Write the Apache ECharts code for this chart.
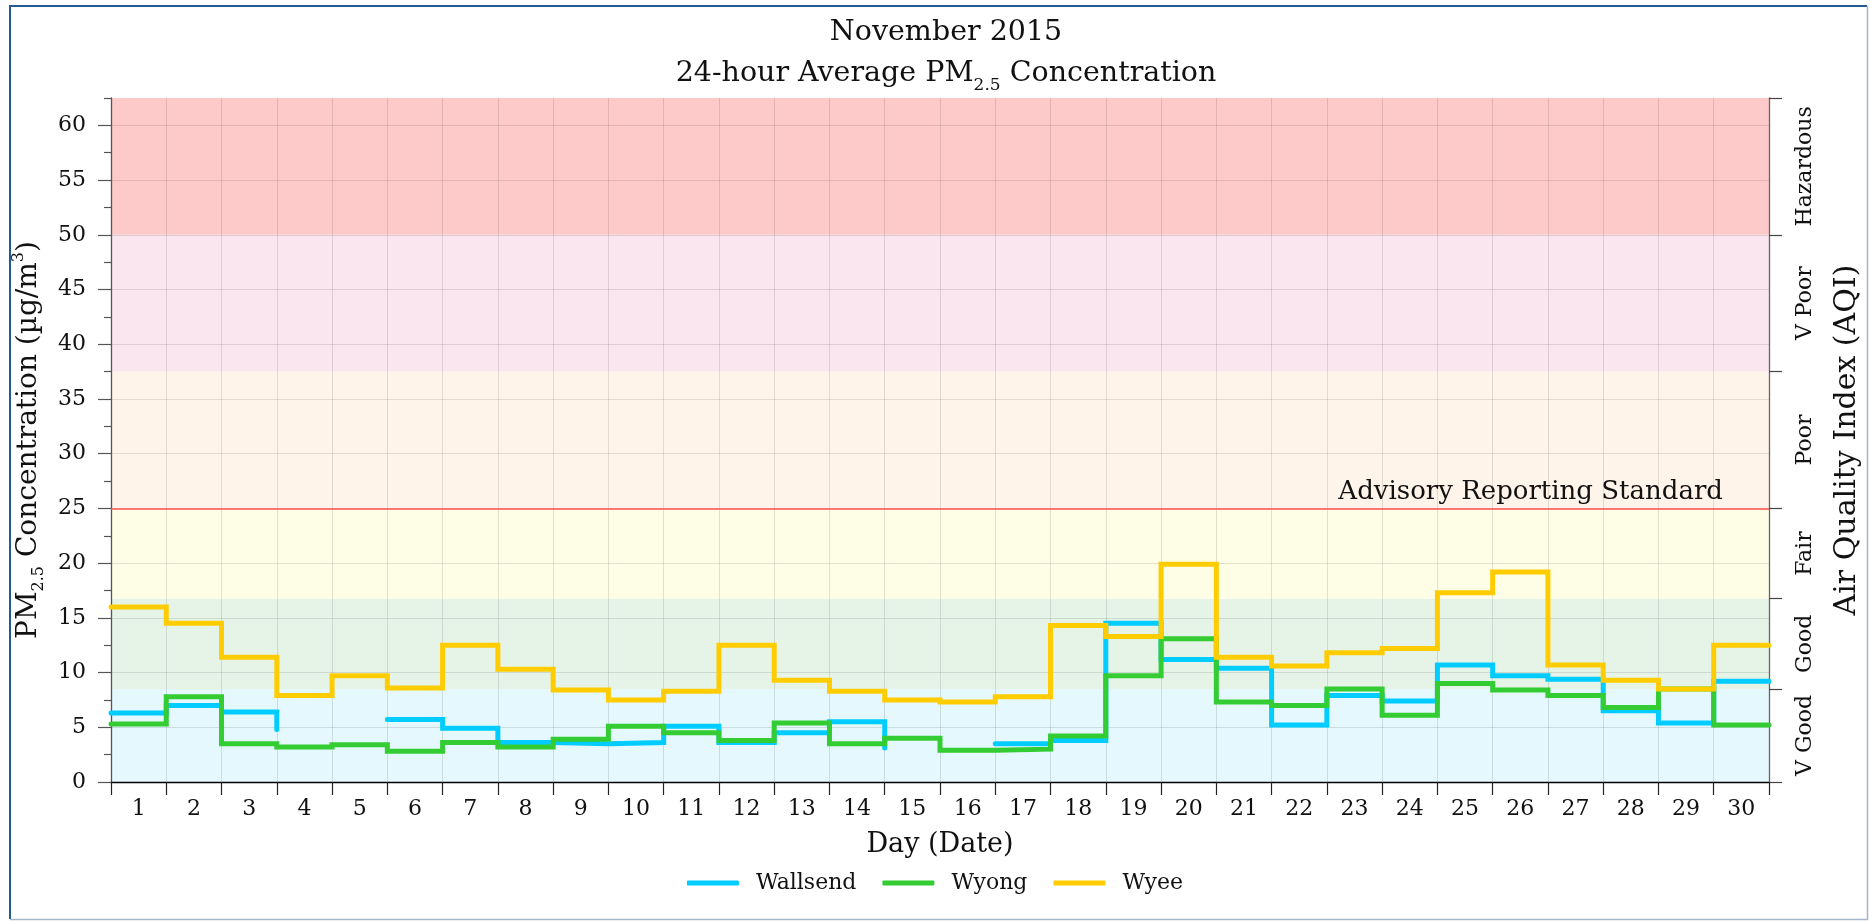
<!DOCTYPE html>
<html><head><meta charset="utf-8">
<script src="https://cdn.jsdelivr.net/npm/echarts@6/dist/echarts.min.js"></script>
<style>html,body{margin:0;padding:0;background:#fff}#c{width:1870px;height:921px}</style>
</head><body><div id="c"></div>
<script>
const days = ['1','2','3','4','5','6','7','8','9','10','11','12','13','14','15','16','17','18','19','20','21','22','23','24','25','26','27','28','29','30'];
const wallsend = [6.3,7.0,6.4,4.8,null,5.7,4.9,3.6,3.5,3.6,5.1,3.6,4.5,5.5,3.1,null,3.5,3.8,14.5,11.2,10.4,5.2,7.9,7.4,10.7,9.7,9.4,6.5,5.4,9.2];
const wyong = [5.3,7.8,3.5,3.2,3.4,2.8,3.6,3.2,3.9,5.1,4.5,3.8,5.4,3.5,4.0,2.9,3.0,4.2,9.7,13.1,7.3,7.0,8.5,6.1,9.0,8.4,7.9,6.8,8.5,5.2];
const wyee = [16.0,14.5,11.4,7.9,9.7,8.6,12.5,10.3,8.4,7.5,8.3,12.5,9.3,8.3,7.5,7.3,7.8,14.3,13.3,19.9,11.4,10.6,11.8,12.2,17.3,19.2,10.7,9.3,8.5,12.5];
const yTickLabels = ['0','5','10','15','20','25','30','35','40','45','50','55','60'];
const aqiBreaks = [0, 8.5, 16.75, 25, 37.5, 50, 62.5];
const aqiLabels = ['V Good','Good','Fair','Poor','V Poor','Hazardous'];
const advisoryStandard = 25;
const bandColors = ['#e4f8fd','#e6f4e8','#fefee6','#fef4ea','#f9e6ef','#fdc9c9'];

const FONT = 'DejaVu Serif';
const TXT = '#111';
const yMax = aqiBreaks[aqiBreaks.length - 1];

// steps-post: each day's value spans [day-1, day]; a day followed by a gap only shows its rise/drop
function stepData(vals){
  const out = [];
  const n = vals.length;
  for (let i = 0; i < n; i++){
    const v = vals[i];
    if (v === null){ out.push([i, null]); continue; }
    out.push([i, v]);
    if (i === n - 1 || vals[i+1] !== null) out.push([i+1, v]);
  }
  return out;
}
const bandCenters = aqiLabels.map((_,i)=>(aqiBreaks[i]+aqiBreaks[i+1])/2);
const minorTicks = [];
for (let v = 2.5; v <= yMax + 1e-9; v += 5) minorTicks.push(v);

const chart = echarts.init(document.getElementById('c'), null, {renderer:'canvas'});
const lineSeries = (name, vals, color) => ({
  name, type:'line', data: stepData(vals), showSymbol:false, symbol:'none',
  z: 2, connectNulls:false,
  lineStyle:{color, width:5, cap:'round', join:'miter'}, itemStyle:{color}
});
const option = {
  animation:false,
  backgroundColor:'#fff',
  title:{
    left:941, textAlign:'center', top:7,
    text:'{a|November 2015}\n{a|24-hour Average PM}{s|2.5}{a| Concentration}',
    textStyle:{rich:{
      a:{fontFamily:FONT, fontSize:28.5, fontWeight:'normal', color:TXT, lineHeight:41},
      s:{fontFamily:FONT, fontSize:17, fontWeight:'normal', color:TXT, lineHeight:24, verticalAlign:'bottom'}
    }}
  },
  legend:{
    data:['Wallsend','Wyong','Wyee'], left:'center', top:867,
    icon:'roundRect', itemWidth:52, itemHeight:5, itemGap:26,
    textStyle:{fontFamily:FONT, fontSize:22, color:TXT, padding:[0,0,0,12]}
  },
  grid:{left:111, right:98, top:98, bottom:139, containLabel:false},
  xAxis:{
    type:'value', min:0, max:days.length, interval:1, z:1,
    axisLine:{show:true, onZero:false, lineStyle:{color:'#000', width:1.3}},
    axisTick:{show:true, length:13, lineStyle:{color:'#222', width:1.2}},
    axisLabel:{customValues: days.map((d,i)=>i+0.5), formatter:v=>days[Math.round(v-0.5)],
      fontFamily:FONT, fontSize:22, color:TXT, margin:16},
    splitLine:{show:true, lineStyle:{color:'rgba(0,0,0,0.11)', width:1}},
    name:'Day (Date)', nameLocation:'middle', nameGap:49,
    nameTextStyle:{fontFamily:FONT, fontSize:27, color:TXT}
  },
  yAxis:[{
    type:'value', min:0, max:yMax, interval:5, position:'left', z:1,
    axisLine:{show:true, lineStyle:{color:'#555', width:1.3}},
    axisTick:{show:true, length:13, customValues: yTickLabels.map(Number), lineStyle:{color:'#555', width:1.2}},
    axisLabel:{customValues: yTickLabels.map(Number), formatter:v=>yTickLabels[Math.round(v/5)],
      fontFamily:FONT, fontSize:22, color:TXT, margin:25},
    splitLine:{show:true, lineStyle:{color:'rgba(0,0,0,0.11)', width:1}},
    name:'{a|PM}{s|2.5}{a| Concentration (µg/m}{p|3}{a|)}', nameLocation:'middle', nameGap:62, nameRotate:90,
    nameTextStyle:{rich:{
      a:{fontFamily:FONT, fontSize:28, color:TXT, lineHeight:36},
      s:{fontFamily:FONT, fontSize:16, color:TXT, lineHeight:21, verticalAlign:'bottom'},
      p:{fontFamily:FONT, fontSize:16, color:TXT, lineHeight:21, verticalAlign:'top'}
    }}
  },{
    type:'value', min:0, max:yMax, position:'right', z:1,
    axisLine:{show:true, lineStyle:{color:'#666', width:1.3}},
    axisTick:{show:true, length:13, customValues: aqiBreaks, lineStyle:{color:'#444', width:1.2}},
    axisLabel:{customValues: bandCenters,
      formatter:v=>aqiLabels[bandCenters.findIndex(c=>Math.abs(c-v)<1e-6)],
      rotate:90, align:'center', verticalAlign:'top',
      fontFamily:FONT, fontSize:22, color:TXT, margin:25},
    splitLine:{show:false},
    name:'Air Quality Index (AQI)', nameLocation:'middle', nameGap:63, nameRotate:90,
    nameTextStyle:{fontFamily:FONT, fontSize:30, color:TXT}
  },{
    type:'value', min:0, max:yMax, position:'left', z:1,
    axisLine:{show:false}, axisLabel:{show:false}, splitLine:{show:false},
    axisTick:{show:true, length:7, customValues: minorTicks, lineStyle:{color:'#555', width:1.2}}
  }],
  series:[
    {name:'bands', type:'line', data:[], z:0, silent:true,
      markArea:{silent:true, z:0,
        data: aqiLabels.map((l,i)=>[{yAxis:aqiBreaks[i], itemStyle:{color:bandColors[i]}},{yAxis:aqiBreaks[i+1]}])},
      markLine:{silent:true, symbol:'none', z:3,
        data:[{yAxis:advisoryStandard}],
        lineStyle:{color:'#ff5050', width:1.6, type:'solid'},
        label:{show:true, position:'insideEndTop', formatter:'Advisory Reporting Standard',
          fontFamily:FONT, fontSize:26, color:TXT, distance:[46, 3]}
      }
    },
    lineSeries('Wallsend', wallsend, '#00ccff'),
    lineSeries('Wyong', wyong, '#33cc33'),
    lineSeries('Wyee', wyee, '#ffcc00')
  ],
  graphic:[
    {type:'polyline', silent:true, z:100, shape:{points:[[10,919],[10,6],[1867,6]]}, style:{fill:null, stroke:'#235a91', lineWidth:2}},
    {type:'polyline', silent:true, z:100, shape:{points:[[1867.5,6],[1867.5,919.5],[10,919.5]]}, style:{fill:null, stroke:'#a3b6ca', lineWidth:1.5}}
  ]
};
chart.setOption(option);
</script></body></html>
